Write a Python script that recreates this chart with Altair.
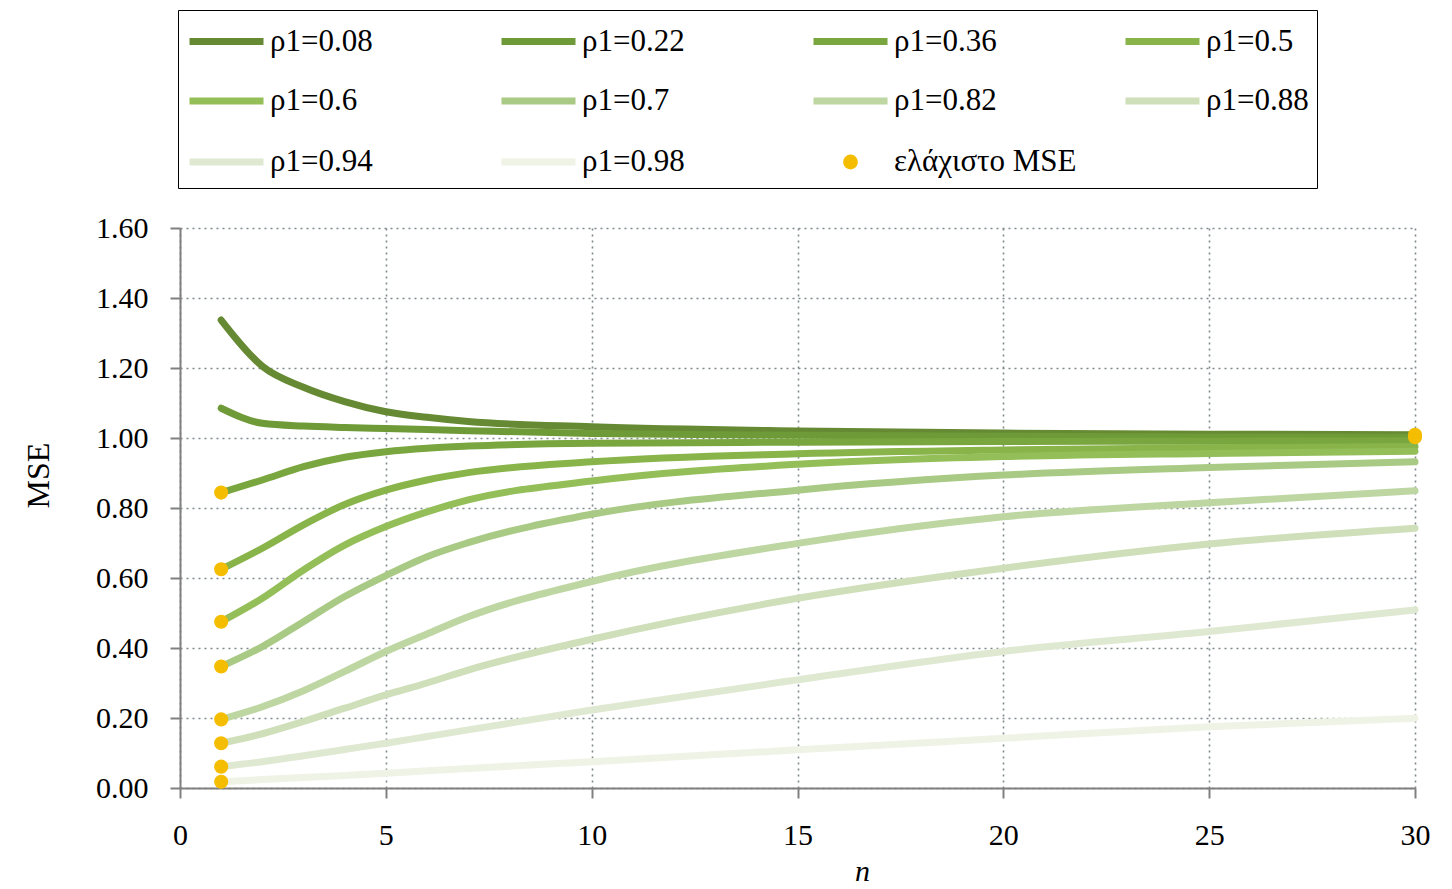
import altair as alt
import pandas as pd

n_vals = [1, 2, 3, 4, 5, 6, 7, 10, 15, 20, 25, 30]

rho_labels = ["ρ1=0.08", "ρ1=0.22", "ρ1=0.36", "ρ1=0.5", "ρ1=0.6",
              "ρ1=0.7", "ρ1=0.82", "ρ1=0.88", "ρ1=0.94", "ρ1=0.98"]

mse_008 = [1.337, 1.205, 1.145, 1.104, 1.075, 1.059, 1.047, 1.032, 1.020, 1.014, 1.011, 1.009]
mse_022 = [1.085, 1.042, 1.034, 1.030, 1.027, 1.024, 1.021, 1.013, 1.008, 1.005, 1.003, 1.002]
mse_036 = [0.844, 0.880, 0.918, 0.945, 0.961, 0.971, 0.977, 0.985, 0.988, 0.990, 0.991, 0.992]
mse_050 = [0.625, 0.685, 0.752, 0.810, 0.851, 0.880, 0.901, 0.932, 0.955, 0.966, 0.972, 0.976]
mse_060 = [0.475, 0.542, 0.623, 0.694, 0.747, 0.789, 0.823, 0.877, 0.925, 0.947, 0.956, 0.962]
mse_070 = [0.347, 0.404, 0.475, 0.547, 0.607, 0.661, 0.701, 0.782, 0.851, 0.894, 0.916, 0.932]
mse_082 = [0.196, 0.232, 0.278, 0.333, 0.390, 0.440, 0.489, 0.590, 0.699, 0.775, 0.815, 0.849]
mse_088 = [0.128, 0.155, 0.190, 0.228, 0.266, 0.300, 0.337, 0.425, 0.542, 0.628, 0.697, 0.742]
mse_094 = [0.061, 0.075, 0.092, 0.110, 0.128, 0.147, 0.166, 0.223, 0.309, 0.390, 0.447, 0.509]
mse_098 = [0.018, 0.024, 0.030, 0.036, 0.042, 0.049, 0.056, 0.075, 0.109, 0.142, 0.175, 0.199]

series = [mse_008, mse_022, mse_036, mse_050, mse_060,
          mse_070, mse_082, mse_088, mse_094, mse_098]

min_label = "ελάχιστο MSE"

line_colors = ["#668a33", "#6f9a38", "#7aa63f", "#88b44a", "#93be58",
               "#a9ca84", "#bdd6a2", "#cedfba", "#dfe9d2", "#eef3e6"]
dot_color = "#f5bd00"

y_ticks = [0, 0.2, 0.4, 0.6, 0.8, 1.0, 1.2, 1.4, 1.6]
x_ticks = [0, 5, 10, 15, 20, 25, 30]

rows = []
for order, (lab, vals) in enumerate(zip(rho_labels, series)):
    for n, v in zip(n_vals, vals):
        rows.append({"n": n, "mse": v, "label": lab, "order": order})
df = pd.DataFrame(rows)

# minimum MSE point for every series
idx = df.groupby("label")["mse"].idxmin()
dmin = df.loc[idx, ["n", "mse"]].copy()
dmin["label"] = min_label

domain_all = rho_labels + [min_label]
range_all = line_colors + [dot_color]

color_scale = alt.Scale(domain=domain_all, range=range_all)

FONT = "Liberation Serif"
# legend symbols: a long line for the series, a small dot for the minimum
line_path = "M-1,0L3,0"
circ_path = "M1.21,0A0.21,0.21 0 1,1 0.79,0A0.21,0.21 0 1,1 1.21,0Z"
shape_scale = alt.Scale(domain=domain_all, range=[line_path] * 10 + [circ_path])

legend = alt.Legend(
    title=None,
    orient="none",
    legendX=-2,
    legendY=-218,
    direction="horizontal",
    columns=4,
    gridAlign="all",
    columnPadding=34,
    rowPadding=21,
    padding=8,
    strokeColor="black",
    fillColor="white",
    symbolSize=1369,
    symbolStrokeWidth=7,
    symbolFillColor="transparent",
    symbolOpacity=1,
    labelFont=FONT,
    labelFontSize=31,
    labelColor="black",
    labelOffset=40,
    labelLimit=400,
    symbolLimit=20,
)

x_enc = alt.X("n:Q", scale=alt.Scale(domain=[0, 30], nice=False),
              axis=alt.Axis(title="n", values=x_ticks, titleFont=FONT, titleFontSize=30,
                            titleFontStyle="italic", titleFontWeight="normal",
                            titleX=682, titleY=92, titleBaseline="alphabetic",
                            labelFont=FONT, labelFontSize=30, labelColor="black",
                            labelFlush=False,
                            labelPadding=22, tickSize=10, tickColor="#808080", tickWidth=2,
                            domainColor="#808080", domainWidth=2,
                            grid=True, gridColor="#7f8a8c", gridDash=[2, 4], gridWidth=1.6))
y_enc = alt.Y("mse:Q", scale=alt.Scale(domain=[0, 1.6], nice=False),
              axis=alt.Axis(title="MSE", values=y_ticks, format=".2f", titleFont=FONT,
                            titleFontSize=32, titleFontWeight="normal", titleColor="black",
                            titleX=-125, titleY=247, titleAngle=-90,
                            labelFont=FONT, labelFontSize=30, labelColor="black",
                            labelFlush=False,
                            labelPadding=22, tickSize=10, tickColor="#808080", tickWidth=2,
                            domainColor="#808080", domainWidth=2,
                            grid=True, gridColor="#7f8a8c", gridDash=[2, 4], gridWidth=1.6))

lines = alt.Chart(df).mark_line(strokeWidth=7, interpolate="monotone", strokeCap="round").encode(
    x=x_enc,
    y=y_enc,
    color=alt.Color("label:N", scale=color_scale, legend=legend),
    detail="label:N",
    order=alt.Order("order:Q"),
)

dots = alt.Chart(dmin).mark_circle(size=200, opacity=1).encode(
    x="n:Q",
    y="mse:Q",
    color=alt.Color("label:N", scale=color_scale, legend=legend),
)

# invisible layer that only supplies the legend symbol shapes
legend_layer = alt.Chart(dmin).mark_point(filled=False, size=1369, strokeWidth=7, opacity=0).encode(
    x="n:Q",
    y="mse:Q",
    color=alt.Color("label:N", scale=color_scale, legend=legend),
    shape=alt.Shape("label:N", scale=shape_scale, legend=legend),
)

chart = alt.layer(lines, dots, legend_layer).properties(
    width=1235,
    height=560,
    autosize=alt.AutoSizeParams(type="none"),
    padding={"left": 180, "top": 228, "right": 37, "bottom": 101},
).configure_view(stroke=None).configure_axis(titleColor="black")

chart.save("out.html", embed_options={"renderer": "svg", "actions": False})
